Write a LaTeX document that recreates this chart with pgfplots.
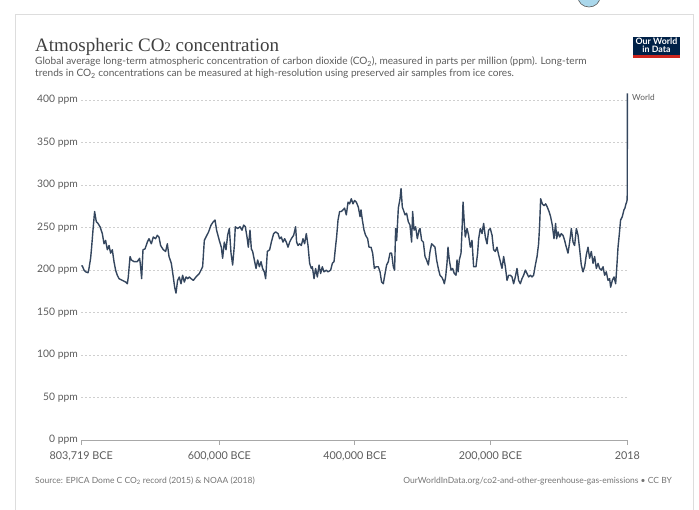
\documentclass[border=0pt]{standalone}
\usepackage{fontspec}
\setmainfont{Lato}
\newfontfamily\titlefont{Liberation Serif}
\usepackage{pgfplots}
\pgfplotsset{compat=1.18}
\definecolor{owline}{HTML}{34465E}
\definecolor{owtext}{HTML}{5B5B5B}
\definecolor{owgrid}{HTML}{CFCFCF}
\definecolor{owaxis}{HTML}{A8A8A8}
\definecolor{owframe}{HTML}{DDDDDD}
\definecolor{ownavy}{HTML}{002147}
\definecolor{owred}{HTML}{CE261E}
\begin{document}
\begin{tikzpicture}[x=1pt,y=1pt]
\useasboundingbox (0,0) rectangle (699,509);
% frame
\draw[owframe, line width=1pt] (15,-2) -- (15,494) -- (693,494) -- (693,-2);
% small artifact at top
\begin{scope}
\clip (560,509) rectangle (620,495);
\draw[fill={rgb,255:red,170;green,215;blue,235}, draw=gray!70!black, line width=0.6pt] (589,512) ellipse (11 and 10);
\end{scope}
% title
\node[anchor=base west, inner sep=0, text=black!75] at (35,457) {\titlefont\fontsize{19}{22}\selectfont Atmospheric CO{\fontsize{13}{13}\selectfont 2} concentration};
\node[anchor=base west, inner sep=0, text=owtext] at (35,444) {\fontsize{10.1}{11}\selectfont Global average long-term atmospheric concentration of carbon dioxide (CO\textsubscript{2}), measured in parts per million (ppm). Long-term};
\node[anchor=base west, inner sep=0, text=owtext] at (35,432) {\fontsize{10.1}{11}\selectfont trends in CO\textsubscript{2} concentrations can be measured at high-resolution using preserved air samples from ice cores.};
% logo
\fill[ownavy] (633,451) rectangle (680,472);
\fill[owred] (633,451) rectangle (680,454);
\node[text=white, inner sep=0, anchor=base] at (656.5,464) {\fontsize{8.8}{9}\selectfont\bfseries Our World};
\node[text=white, inner sep=0, anchor=base] at (656.5,456.5) {\fontsize{8.8}{9}\selectfont\bfseries in Data};
% footer
\node[anchor=base west, inner sep=0, text=owtext!85] at (35,26) {\fontsize{8.5}{9}\selectfont Source: EPICA Dome C CO\textsubscript{2} record (2015) \& NOAA (2018)};
\node[anchor=base east, inner sep=0, text=owtext!85] at (672,26) {\fontsize{8.5}{9}\selectfont OurWorldInData.org/co2-and-other-greenhouse-gas-emissions \textbullet\ CC BY};
\begin{axis}[
  at={(120,81)}, anchor=south west,
  scale only axis, width=546pt, height=340pt,
  xmin=-803.719, xmax=2.018, ymin=0, ymax=400,
  clip=false,
  axis x line*=bottom, axis y line*=left,
  y axis line style={draw=none},
  x axis line style={owaxis, line width=0.8pt},
  xtick={-803.719,-600,-400,-200,2.018},
  xticklabels={{803,719 BCE},{600,000 BCE},{400,000 BCE},{200,000 BCE},2018},
  ytick={0,50,100,150,200,250,300,350,400},
  yticklabels={0 ppm,50 ppm,100 ppm,150 ppm,200 ppm,250 ppm,300 ppm,350 ppm,400 ppm},
  xtick style={owaxis, line width=0.8pt},
  ytick style={draw=none},
  tick align=outside,
  major tick length=5pt,
  ymajorgrids,
  major grid style={owgrid, dash pattern=on 2pt off 2pt, line width=0.7pt},
  xticklabel style={font=\fontsize{10.8}{12}\selectfont, text=owtext, yshift=-3pt},
  yticklabel style={font=\fontsize{10.3}{12}\selectfont, text=owtext, anchor=east, xshift=5pt},
]
\addplot[owline, line width=1.4pt, line join=round] table {
x y
-803.719 205
-802.2 205
-799.7 200
-797.4 198
-793.8 197
-792.4 202
-790.0 214
-788.5 227
-786.5 247
-784.1 269
-781.6 257
-779.1 255
-776.1 251
-772.7 243
-770.2 231
-767.9 235
-765.3 224
-762.8 229
-760.5 220
-758.0 224
-755.5 210
-753.1 200
-750.6 194
-748.1 190
-743.2 188
-738.3 186
-735.8 184
-734.4 192
-731.8 216
-729.9 212
-725.9 210
-721.1 210
-717.7 214
-716.2 204
-714.7 190
-712.7 224
-709.7 225
-706.3 233
-703.8 237
-700.4 231
-697.5 239
-694.1 237
-691.6 241
-689.1 239
-686.7 229
-682.7 224
-679.3 222
-676.8 231
-674.3 216
-670.9 208
-668.0 192
-666.0 180
-664.0 173
-661.6 188
-659.1 192
-656.6 184
-654.2 194
-651.7 186
-649.2 192
-646.8 190
-644.3 192
-641.8 190
-638.4 188
-634.5 192
-632.1 194
-629.6 196
-627.1 200
-624.7 204
-622.2 235
-619.7 239
-615.9 245
-612.3 253
-608.9 257
-606.4 259
-604.1 247
-600.1 235
-597.1 227
-595.2 214
-592.7 233
-590.2 224
-587.8 241
-585.3 249
-582.8 220
-580.4 206
-577.9 229
-576.5 251
-573.1 249
-569.5 251
-566.6 247
-564.2 253
-561.7 251
-559.2 239
-557.3 227
-554.8 247
-552.8 225
-550.9 222
-548.4 212
-545.9 202
-543.5 212
-541.0 204
-538.5 210
-536.2 202
-533.7 198
-531.7 190
-529.2 222
-525.8 224
-523.3 233
-519.9 243
-517.0 245
-513.4 243
-511.1 237
-508.6 239
-506.1 233
-503.7 237
-501.2 233
-498.7 227
-496.3 233
-493.8 237
-490.4 241
-487.5 251
-486.0 233
-483.9 229
-481.6 231
-479.1 229
-476.6 237
-474.2 231
-471.7 243
-469.2 229
-466.8 208
-464.3 202
-462.8 204
-460.3 190
-458.0 202
-455.4 192
-452.9 206
-450.6 196
-448.1 204
-445.6 198
-442.2 200
-439.7 198
-435.8 200
-433.3 208
-430.8 210
-428.9 225
-427.0 239
-424.9 259
-422.5 269
-420.0 269
-417.5 271
-415.2 273
-412.7 265
-410.1 280
-407.8 278
-405.3 284
-402.8 278
-400.4 282
-397.9 280
-394.9 274
-392.4 263
-391.0 271
-389.0 259
-386.5 247
-384.2 241
-381.2 237
-379.2 227
-376.2 227
-373.8 220
-371.3 202
-368.8 204
-365.4 204
-362.9 198
-360.6 186
-358.1 184
-355.5 196
-353.2 206
-350.7 210
-348.2 220
-345.8 220
-343.3 204
-341.4 200
-339.9 249
-338.4 235
-335.9 273
-333.4 284
-331.9 296
-330.0 274
-328.5 271
-326.0 265
-323.7 267
-321.2 257
-318.7 253
-316.3 233
-314.8 269
-312.7 247
-310.4 251
-307.9 237
-305.4 247
-303.9 249
-301.5 235
-299.0 233
-296.5 216
-294.2 212
-291.6 206
-289.1 222
-286.8 231
-284.3 229
-281.8 227
-279.4 212
-276.9 202
-274.4 194
-272.0 192
-269.5 188
-268.0 184
-266.1 192
-264.1 208
-262.6 227
-260.7 212
-258.1 200
-255.8 202
-253.3 196
-250.8 194
-249.3 212
-247.8 198
-245.9 212
-243.4 220
-241.9 247
-240.4 280
-238.5 255
-237.1 239
-234.5 249
-232.2 241
-229.7 227
-227.2 235
-224.8 204
-221.3 204
-218.9 220
-217.4 237
-214.9 249
-212.4 243
-210.0 255
-207.5 239
-205.0 231
-202.7 247
-200.2 249
-197.6 241
-195.3 224
-192.8 222
-190.3 227
-187.9 218
-185.4 210
-182.9 202
-180.5 216
-178.0 204
-175.5 188
-173.1 194
-170.6 194
-168.1 192
-165.8 184
-163.3 192
-160.8 202
-158.4 188
-155.9 184
-153.4 190
-151.0 194
-148.5 200
-146.0 196
-143.6 192
-141.1 194
-138.6 192
-136.3 194
-133.7 206
-131.2 216
-128.9 231
-127.5 251
-125.9 284
-123.4 278
-120.9 276
-118.5 278
-116.0 274
-113.5 269
-111.2 263
-108.7 253
-106.2 237
-103.8 255
-102.3 237
-100.2 245
-97.9 239
-95.4 243
-92.9 241
-90.5 235
-88.0 227
-85.5 220
-83.1 233
-80.6 249
-78.1 233
-75.8 229
-73.2 249
-70.7 241
-68.4 225
-65.9 206
-63.4 198
-61.0 204
-58.5 218
-56.0 227
-53.6 214
-51.1 222
-48.6 208
-46.2 216
-43.7 202
-41.2 208
-38.9 202
-36.4 200
-33.8 204
-31.5 194
-29.0 198
-26.5 188
-24.1 190
-22.6 180
-20.1 188
-17.6 192
-15.2 184
-13.8 200
-11.7 227
-10.2 239
-7.9 259
-5.4 263
-2.9 271
-1.5 273
0.0 278
1.0 280
1.8 283
1.9 296
1.96 317
1.99 354
2.018 408
};
\end{axis}
\node[anchor=west, inner sep=0, text=owtext] at (632,412) {\fontsize{8.3}{10}\selectfont World};
\end{tikzpicture}
\end{document}
